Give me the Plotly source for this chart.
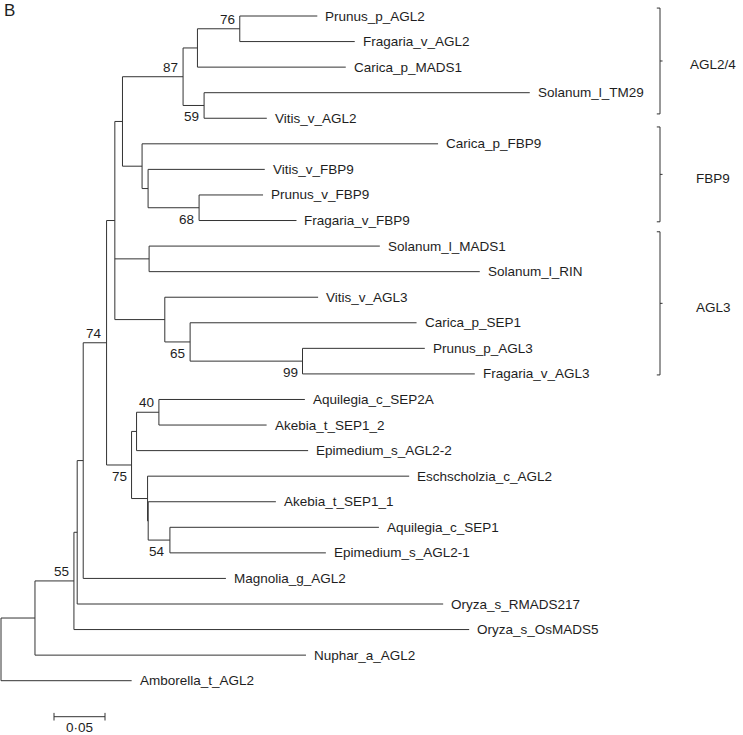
import plotly.graph_objects as go

# ---------------- data ----------------
node_names = [
    "root", "nA", "nB", "nC", "nD", "nE", "nF", "nL", "nO", "nQ", "nS",
    "Prunus_p_AGL2", "Fragaria_v_AGL2", "Carica_p_MADS1", "nR", "Solanum_l_TM29", "Vitis_v_AGL2",
    "nP", "Carica_p_FBP9", "nT", "Vitis_v_FBP9", "nU", "Prunus_v_FBP9", "Fragaria_v_FBP9",
    "nM", "Solanum_l_MADS1", "Solanum_l_RIN",
    "nN", "Vitis_v_AGL3", "nV", "Carica_p_SEP1", "nW", "Prunus_p_AGL3", "Fragaria_v_AGL3",
    "nG", "nH", "nJ", "Aquilegia_c_SEP2A", "Akebia_t_SEP1_2", "Epimedium_s_AGL2-2",
    "nI", "Eschscholzia_c_AGL2", "nI2", "Akebia_t_SEP1_1", "nK", "Aquilegia_c_SEP1", "Epimedium_s_AGL2-1",
    "Magnolia_g_AGL2", "Oryza_s_RMADS217", "Oryza_s_OsMADS5", "Nuphar_a_AGL2", "Amborella_t_AGL2",
]
node_parents = [
    None, "root", "nA", "nB", "nC", "nD", "nE", "nF", "nL", "nO", "nQ",
    "nS", "nS", "nQ", "nO", "nR", "nR",
    "nL", "nP", "nP", "nT", "nT", "nU", "nU",
    "nF", "nM", "nM",
    "nF", "nN", "nN", "nV", "nV", "nW", "nW",
    "nE", "nG", "nH", "nJ", "nJ", "nH",
    "nG", "nI", "nI", "nI2", "nI2", "nK", "nK",
    "nD", "nC", "nB", "nA", "root",
]
branch_lengths = [
    0.0, 0.0333, 0.0382, 0.0032, 0.0059, 0.0229, 0.0081, 0.0075, 0.0594, 0.0141, 0.0415,
    0.0760, 0.1127, 0.1454, 0.0206, 0.3193, 0.0615,
    0.0192, 0.2902, 0.0059, 0.1144, 0.0500, 0.0627, 0.0955,
    0.0336, 0.2262, 0.3242,
    0.0490, 0.1503, 0.0248, 0.2220, 0.1102, 0.1199, 0.1689,
    0.0245, 0.0049, 0.0219, 0.1431, 0.1056, 0.1682,
    0.0157, 0.2565, 0.0006, 0.1252, 0.0213, 0.2049, 0.1529,
    0.1399, 0.3588, 0.3875, 0.2657, 0.1281,
]
bootstrap_nodes = ["nS", "nO", "nR", "nU", "nE", "nV", "nW", "nJ", "nG", "nK", "nB"]
bootstrap_values = [76, 87, 59, 68, 74, 65, 99, 40, 75, 54, 55]

group_names = ["AGL2/4", "FBP9", "AGL3"]
group_start = [-0.31, 4.34, 8.44]   # in leaf-row units
group_end = [3.83, 8.05, 14.04]

scale_value = 0.05
scale_label = "0·05"
panel_label = "B"

# ---------------- style ----------------
W, H = 743, 735
PX_PER_UNIT = 1020.0
ROOT_PX = 1.0
ROW0_PX = 16.0
ROW_PX = 25.565
LINE = "#333333"
TXT = "#1e1e1e"
FONT = "Liberation Sans, Arial, Helvetica, sans-serif"
FS = 13.5
below_labels = {"nR", "nU", "nV", "nW", "nG", "nK"}

# ---------------- tree layout ----------------
children = {n: [] for n in node_names}
parent_of = dict(zip(node_names, node_parents))
blen = dict(zip(node_names, branch_lengths))
for n, p in zip(node_names, node_parents):
    if p is not None:
        children[p].append(n)

xpos, ypos = {}, {}
leaf_counter = [0]


def place(n, x):
    xpos[n] = x
    if not children[n]:
        ypos[n] = leaf_counter[0]
        leaf_counter[0] += 1
    else:
        for c in children[n]:
            place(c, x + blen[c])
        ys = [ypos[c] for c in children[n]]
        ypos[n] = (ys[0] + ys[-1]) / 2.0


place("root", 0.0)

sx, sy = [], []
for n in node_names:
    p = parent_of[n]
    if p is not None:
        sx += [xpos[p], xpos[n], None]
        sy += [ypos[n], ypos[n], None]
    if children[n]:
        ys = [ypos[c] for c in children[n]]
        sx += [xpos[n], xpos[n], None]
        sy += [ys[0], ys[-1], None]

fig = go.Figure()
fig.add_trace(go.Scatter(x=sx, y=sy, mode="lines",
                         line=dict(color=LINE, width=1), hoverinfo="skip",
                         showlegend=False))

annotations = []
for n in node_names:
    if not children[n]:
        annotations.append(dict(x=xpos[n], y=ypos[n], text=n, showarrow=False,
                                xanchor="left", yanchor="middle", xshift=6,
                                font=dict(size=FS, color=TXT, family=FONT)))

for n, v in zip(bootstrap_nodes, bootstrap_values):
    annotations.append(dict(x=xpos[n], y=ypos[n], text=str(v), showarrow=False,
                            xanchor="right", yanchor="middle", xshift=-3,
                            yshift=(-11.5 if n in below_labels else 9.5),
                            font=dict(size=FS, color=TXT, family=FONT)))

# group brackets
bx = (660 - ROOT_PX) / PX_PER_UNIT
tick = 3.2 / PX_PER_UNIT
bxs, bys = [], []
for g, s, e in zip(group_names, group_start, group_end):
    m = (s + e) / 2.0
    bxs += [bx - tick, bx, bx, bx - tick, None, bx, bx + tick * 0.8, None]
    bys += [s, s, e, e, None, m, m, None]
    annotations.append(dict(x=(713 - ROOT_PX) / PX_PER_UNIT, y=m, text=g, showarrow=False,
                            xanchor="center", yanchor="middle", yshift=-4,
                            font=dict(size=FS, color=TXT, family=FONT)))
fig.add_trace(go.Scatter(x=bxs, y=bys, mode="lines",
                         line=dict(color=LINE, width=1), hoverinfo="skip",
                         showlegend=False))

# scale bar
sb_x0 = (54 - ROOT_PX) / PX_PER_UNIT
sb_y = (716.7 - ROW0_PX) / ROW_PX
th = 3.8 / ROW_PX
fig.add_trace(go.Scatter(
    x=[sb_x0, sb_x0 + scale_value, None, sb_x0, sb_x0, None, sb_x0 + scale_value, sb_x0 + scale_value],
    y=[sb_y, sb_y, None, sb_y - th, sb_y + th, None, sb_y - th, sb_y + th],
    mode="lines", line=dict(color=LINE, width=1), hoverinfo="skip", showlegend=False))
annotations.append(dict(x=sb_x0 + scale_value / 2, y=sb_y, text=scale_label, showarrow=False,
                        xanchor="center", yanchor="middle", yshift=-11,
                        font=dict(size=FS, color=TXT, family=FONT)))

annotations.append(dict(x=0, y=1, xref="paper", yref="paper", text=panel_label,
                        showarrow=False, xanchor="left", yanchor="top", xshift=2, yshift=1,
                        font=dict(size=17, color=TXT, family=FONT)))

x_lo = -ROOT_PX / PX_PER_UNIT
x_hi = (W - ROOT_PX) / PX_PER_UNIT
y_top = -ROW0_PX / ROW_PX
y_bot = (H - ROW0_PX) / ROW_PX

fig.update_layout(
    width=W, height=H,
    margin=dict(l=0, r=0, t=0, b=0),
    paper_bgcolor="white", plot_bgcolor="white",
    xaxis=dict(range=[x_lo, x_hi], visible=False, fixedrange=True),
    yaxis=dict(range=[y_bot, y_top], visible=False, fixedrange=True),
    annotations=annotations,
    showlegend=False,
)

fig.write_html(
    "out.html",
    config={"displayModeBar": False},
    post_script="document.body.style.margin='0';document.body.style.overflow='hidden';",
)
